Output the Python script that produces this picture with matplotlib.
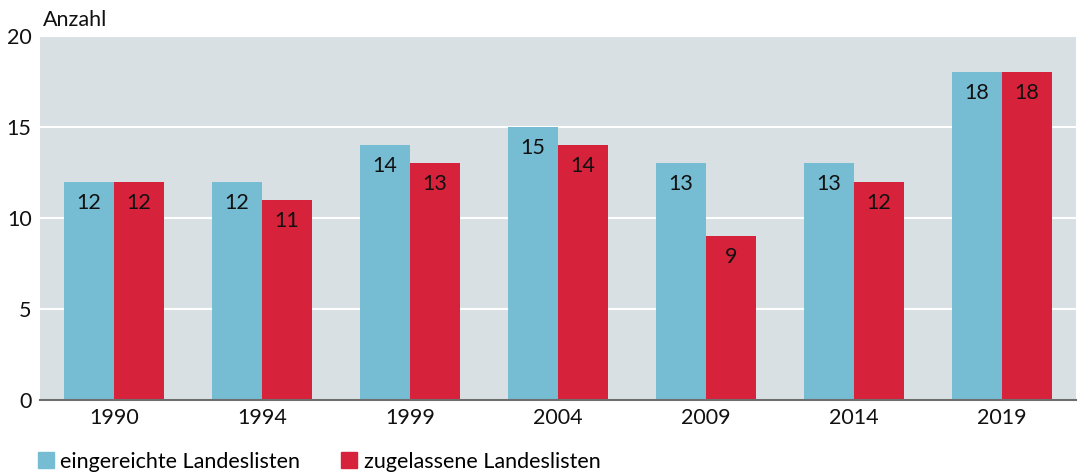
import numpy as np
import matplotlib.pyplot as plt
from matplotlib.patches import Patch

plt.rcParams['font.family'] = ['Lato', 'DejaVu Sans']

jahre = ['1990', '1994', '1999', '2004', '2009', '2014', '2019']
eingereicht = [12, 12, 14, 15, 13, 13, 18]
zugelassen = [12, 11, 13, 14, 9, 12, 18]

c_blau = '#76bdd4'
c_rot = '#d7223b'
fs = 15.5

fig = plt.figure(figsize=(10.81, 4.72), dpi=100)
ax = fig.add_axes([0.037, 0.1525, 0.9584, 0.7712])
ax.set_facecolor('#d8e0e3')

x = np.arange(len(jahre))
w = 0.338
b1 = ax.bar(x - w / 2, eingereicht, w, color=c_blau, zorder=3)
b2 = ax.bar(x + w / 2, zugelassen, w, color=c_rot, zorder=3)

# Werte oben in den Balken
for bars, vals in ((b1, eingereicht), (b2, zugelassen)):
    for bar, v in zip(bars, vals):
        ax.text(bar.get_x() + bar.get_width() / 2, v - 1.15, str(v),
                ha='center', va='center', fontsize=fs, color='#111111', zorder=4)

ax.set_xlim(-0.5, len(jahre) - 0.5)
ax.set_ylim(0, 20)
ax.set_yticks([0, 5, 10, 15, 20])
ax.set_xticks(x)
ax.set_xticklabels(jahre)
ax.yaxis.grid(True, color='white', linewidth=1.5, zorder=1)
ax.set_axisbelow(True)
for s in ['top', 'right', 'left']:
    ax.spines[s].set_visible(False)
ax.spines['bottom'].set_color('#6e6e6e')
ax.spines['bottom'].set_linewidth(1.5)
ax.spines['bottom'].set_zorder(5)
ax.tick_params(axis='both', length=0, labelsize=fs, colors='#111111')
ax.tick_params(axis='x', pad=6)
ax.tick_params(axis='y', pad=6)

fig.text(0.04, 0.958, 'Anzahl', fontsize=fs, color='#111111', va='center')

handles = [Patch(color=c_blau), Patch(color=c_rot)]
fig.legend(handles, ['eingereichte Landeslisten', 'zugelassene Landeslisten'],
           loc='center left', bbox_to_anchor=(0.035, 0.022), ncol=2, frameon=False,
           fontsize=fs, handlelength=0.75, handleheight=0.75, handletextpad=0.3,
           columnspacing=1.9, borderaxespad=0, borderpad=0)

fig.savefig('out.png', dpi=100)
